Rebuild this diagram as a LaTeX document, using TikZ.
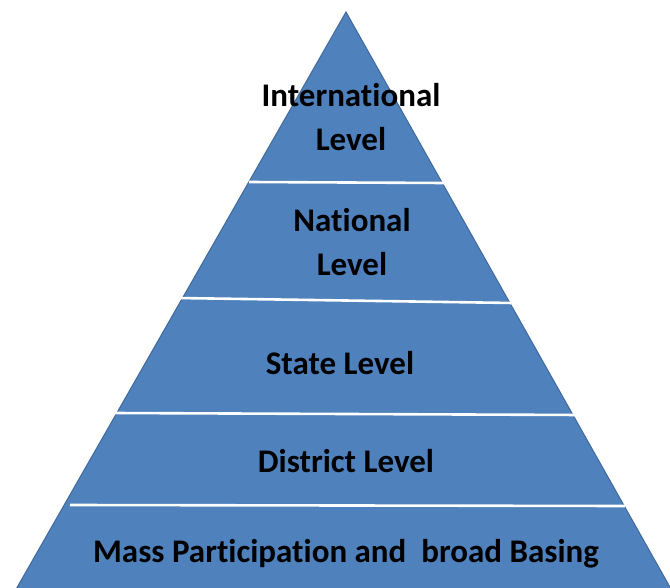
\documentclass[tikz,border=0pt]{standalone}
\usepackage{fontspec}
\setmainfont{Carlito}[Ligatures={NoCommon}]
\usetikzlibrary{positioning}
\definecolor{pyrblue}{HTML}{4F81BD}
\definecolor{pyredge}{HTML}{41699A}

\tikzset{
	level/.style={font=\bfseries\fontsize{33}{44}\selectfont, align=center, text=black, inner sep=0pt},
	divider/.style={draw=white, line width=2.6pt},
}

\begin{document}
\begin{tikzpicture}[x=1pt, y=-1pt]
	\useasboundingbox (0,0) rectangle (670,588);
	\clip (0,0) rectangle (670,588);
	\coordinate (apex) at (346,12);
	\coordinate (baseL) at (3,612);
	\coordinate (baseR) at (684,612);
	\draw[fill=pyrblue, draw=pyredge, line width=1pt] (apex) -- (baseR) -- (baseL) -- cycle;
	% dividers between the levels
	\draw[divider] (249,182) -- (444,183);
	\draw[divider] (177,298) -- (513,303);
	\draw[divider] (113,413) -- (581,415);
	\draw[divider] (70,505) -- (625,506);
	% level texts
	\node[level] (intl) at (351,117) {International\\Level};
	\node[level] (natl) at (352,242) {National\\Level};
	\node[level, anchor=base] (state) at (340,374) {State Level};
	\node[level, anchor=base] (dist) at (346,472) {District Level};
	\node[level, anchor=base] (mass) at (346,562) {Mass Participation and\ \ broad Basing};
\end{tikzpicture}
\end{document}
